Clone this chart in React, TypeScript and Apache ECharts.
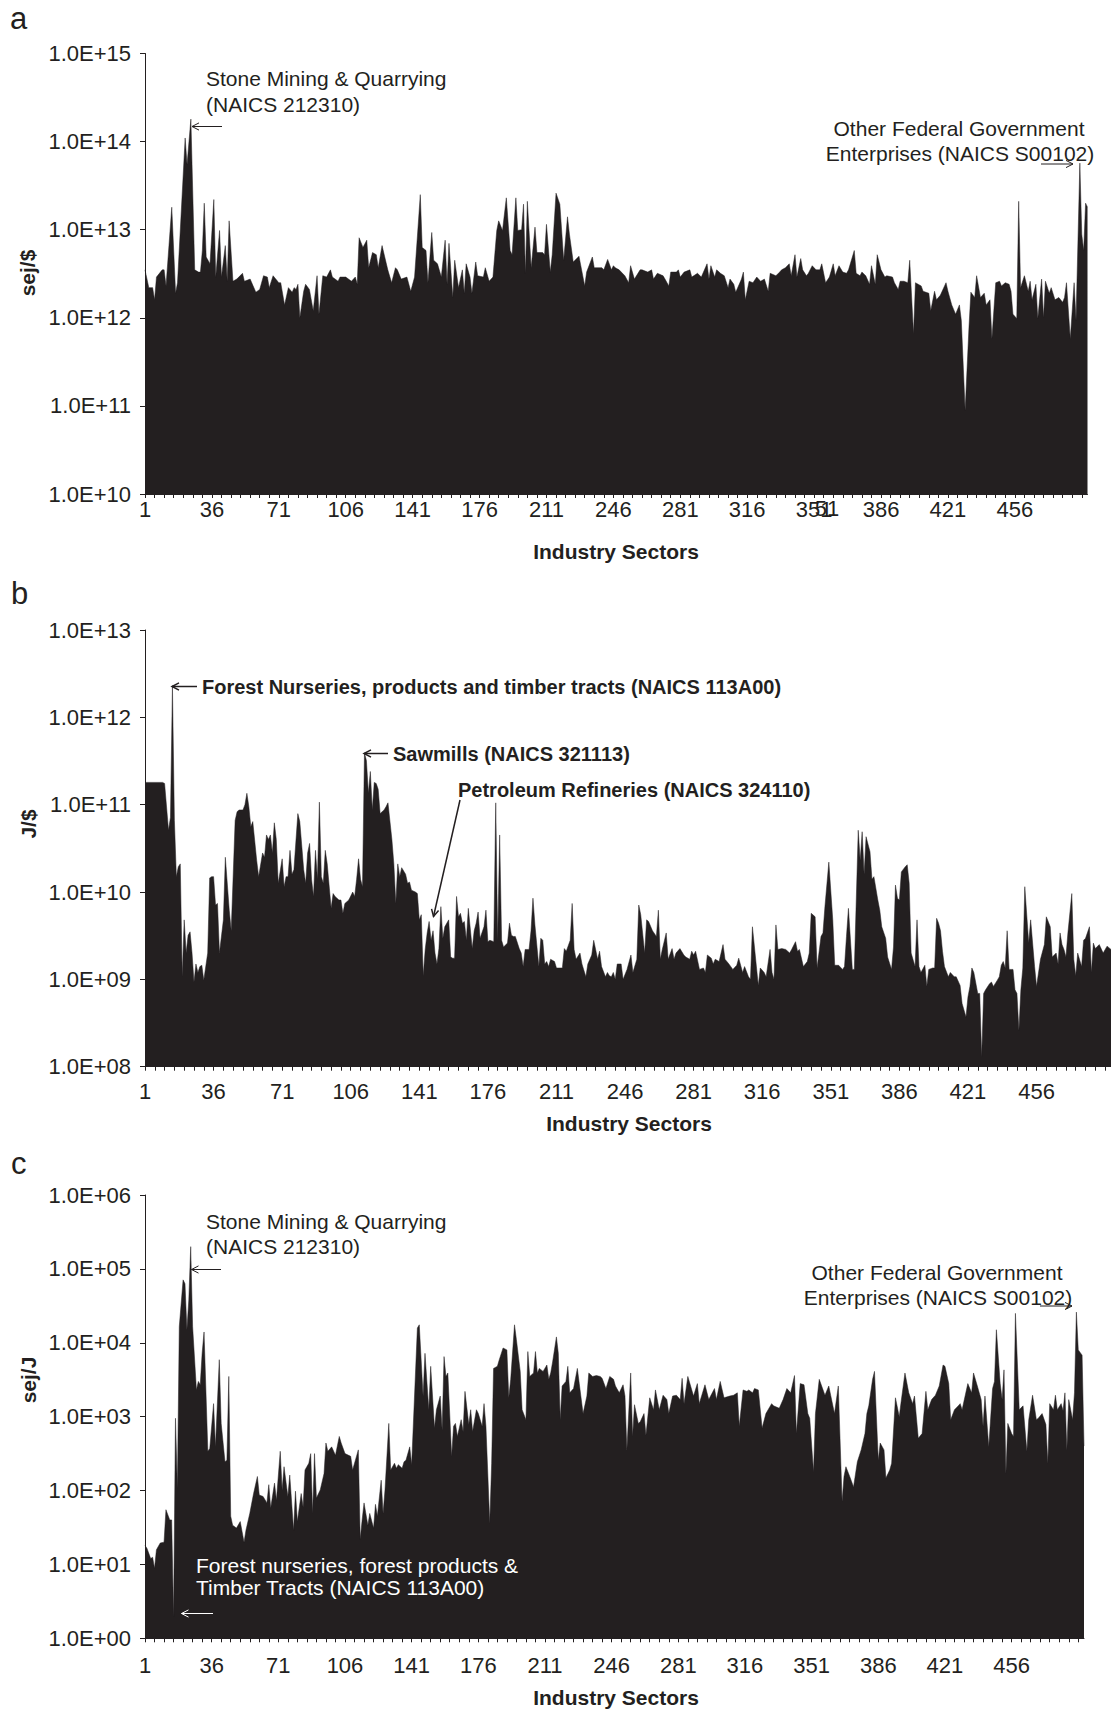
import React, { useEffect, useRef } from 'react';
import * as echarts from 'echarts';

const INK = '#231f20';
const FONT = '"Liberation Sans", Arial, Helvetica, sans-serif';
const TICK_FONT_SIZE = 22;
const SECTOR_COUNT = 494;
const sectorCategories: string[] = Array.from({ length: SECTOR_COUNT }, (_, i) => String(i + 1));
const xTickLabels = ['1', '36', '71', '106', '141', '176', '211', '246', '281', '316', '351', '386', '421', '456'];

// Panel a: emergy intensity, sej/$  [sector, value]
const panelA: [number, number][] = [
  [1,3.5e12],[3,2.2e12],[5,2.2e12],[6,1.6e12],[7,2.9e12],[10,3.5e12],[11,3.5e12],[12,2.3e12],[15,1.8e13],[17,1.9e12],[18,2.5e12],[22,1.1e14],[23,5.5e13],[25,1.8e14],[27,3.5e12],[29,3.3e12],[30,3.3e12],[31,5.8e12],[32,2.0e13],[33,4.9e12],[35,4.1e12],[37,2.2e13],[38,2.9e12],[40,9.8e12],[41,2.9e12],[43,6.6e12],[44,2.6e12],[45,1.26e13],[47,2.6e12],[49,2.75e12],[52,3.2e12],[53,2.6e12],[56,2.75e12],[59,1.95e12],[61,2.1e12],[63,3.0e12],[65,2.9e12],[66,2.2e12],[68,3.0e12],[71,2.5e12],[72,2.5e12],[74,1.4e12],[76,2.2e12],[78,1.95e12],[79,2.2e12],[80,2.1e12],[81,2.4e12],[82,1.0e12],[84,2.0e12],[85,2.4e12],[87,2.1e12],[89,1.2e12],[91,3.0e12],[92,1.1e12],[94,3.0e12],[96,2.9e12],[98,3.5e12],[99,2.9e12],[102,2.6e12],[103,2.9e12],[106,2.9e12],[109,2.6e12],[111,2.9e12],[112,2.4e12],[113,8.1e12],[115,6.3e12],[117,7.6e12],[118,3.7e12],[120,5.5e12],[122,5.2e12],[123,3.7e12],[125,6.6e12],[128,3.5e12],[130,2.5e12],[132,3.7e12],[133,3.5e12],[135,2.75e12],[138,2.9e12],[140,2.0e12],[142,2.9e12],[145,2.5e13],[146,6.3e12],[148,5.8e12],[149,2.5e12],[151,9.3e12],[152,4.5e12],[154,4.1e12],[156,2.9e12],[158,7.6e12],[159,2.4e12],[160,7.0e12],[162,1.7e12],[163,4.5e12],[165,2.2e12],[167,3.5e12],[168,1.9e12],[169,4.1e12],[171,2.9e12],[172,1.9e12],[174,4.3e12],[175,3.0e12],[178,2.9e12],[179,3.7e12],[181,2.6e12],[183,2.9e12],[185,9.8e12],[186,1.26e13],[188,9.8e12],[190,2.3e13],[192,5.8e12],[193,5.2e12],[195,2.3e13],[196,9.8e12],[198,1.0e13],[199,1.95e13],[200,3.2e12],[201,2.1e13],[203,3.7e12],[205,1.07e13],[206,5.5e12],[209,5.5e12],[210,5.2e12],[211,1.15e13],[213,3.3e12],[214,5.2e12],[216,2.6e13],[218,1.95e13],[220,4.5e12],[222,1.4e13],[223,8.9e12],[225,4.3e12],[228,5.0e12],[231,2.3e12],[232,3.3e12],[235,4.9e12],[236,3.7e12],[240,3.7e12],[241,3.5e12],[243,4.6e12],[245,3.5e12],[246,3.9e12],[247,3.7e12],[249,3.5e12],[252,3.0e12],[254,2.5e12],[255,3.9e12],[257,2.75e12],[260,3.5e12],[261,3.5e12],[264,3.3e12],[266,3.5e12],[267,2.75e12],[269,3.2e12],[272,3.0e12],[273,2.75e12],[275,2.3e12],[276,3.3e12],[279,3.3e12],[280,3.5e12],[281,2.9e12],[283,3.3e12],[286,3.5e12],[287,2.9e12],[290,3.2e12],[292,2.9e12],[295,4.1e12],[296,2.75e12],[297,3.9e12],[299,2.9e12],[300,3.5e12],[302,3.2e12],[304,3.0e12],[306,2.2e12],[307,2.75e12],[309,2.4e12],[310,1.95e12],[313,2.75e12],[314,3.3e12],[315,1.6e12],[317,2.6e12],[319,2.5e12],[321,2.9e12],[323,2.6e12],[325,2.75e12],[327,2.0e12],[328,3.2e12],[331,3.0e12],[333,3.3e12],[334,3.5e12],[336,3.7e12],[338,4.1e12],[339,3.0e12],[341,5.2e12],[342,2.9e12],[344,4.7e12],[345,3.5e12],[347,3.0e12],[348,3.2e12],[350,3.9e12],[352,3.5e12],[354,3.5e12],[355,4.1e12],[357,2.5e12],[359,2.9e12],[361,4.1e12],[362,3.0e12],[364,3.9e12],[366,3.3e12],[368,3.2e12],[369,3.5e12],[372,5.8e12],[373,3.2e12],[375,3.0e12],[376,3.3e12],[378,3.0e12],[380,2.4e12],[381,3.9e12],[383,2.4e12],[384,5.2e12],[386,3.5e12],[388,2.9e12],[389,3.0e12],[392,2.9e12],[393,2.5e12],[395,2.1e12],[396,2.6e12],[398,2.6e12],[400,2.5e12],[401,4.5e12],[403,6.6e11],[404,2.5e12],[407,2.3e12],[408,2.0e12],[411,1.9e12],[412,1.2e12],[414,2.0e12],[415,1.6e12],[417,1.8e12],[420,2.5e12],[421,2.0e12],[423,1.4e12],[425,1.1e12],[427,1.4e12],[428,9.3e11],[430,8.9e10],[432,7.8e11],[433,1.95e12],[435,1.7e12],[436,3.0e12],[438,1.7e12],[440,1.9e12],[441,1.4e12],[443,1.6e12],[444,5.8e11],[446,2.5e12],[448,2.6e12],[449,2.3e12],[451,2.5e12],[453,2.4e12],[454,2.0e12],[455,1.1e12],[457,9.8e11],[458,2.1e13],[459,2.2e12],[461,3.0e12],[463,2.0e12],[464,2.6e12],[465,1.6e12],[467,2.4e12],[468,9.8e11],[470,2.75e12],[471,1.0e12],[472,2.6e12],[474,1.9e12],[475,2.2e12],[477,1.6e12],[479,1.7e12],[481,1.5e12],[482,1.7e12],[483,2.5e12],[485,5.8e11],[487,2.5e12],[488,9.3e11],[490,5.7e13],[491,8.9e12],[492,5.8e12],[493,2.0e13],[494,1.8e13],
];

// Panel b: energy intensity, J/$  [sector, value]
const panelB: [number, number][] = [
  [1,1.8e11],[10,1.8e11],[11,1.75e11],[13,5.1e10],[14,7.2e10],[15,2.3e12],[16,6.6e10],[17,1.5e10],[18,1.95e10],[19,2.1e10],[20,1.07e9],[21,4.8e9],[22,2.0e9],[23,3.2e9],[24,3.5e9],[25,2.0e9],[26,9.3e8],[27,1.5e9],[28,1.2e9],[29,1.4e9],[30,1.45e9],[31,9.8e8],[33,2.0e9],[34,1.45e10],[35,1.5e10],[36,1.5e10],[37,7.1e9],[38,7.4e9],[39,2.0e9],[41,4.8e9],[42,2.5e10],[44,6.2e9],[45,3.6e9],[47,6.6e10],[48,8.3e10],[49,8.7e10],[51,8.7e10],[52,1.0e11],[53,1.35e11],[54,9.5e10],[55,5.6e10],[56,6.4e10],[58,2.3e10],[59,1.5e10],[61,2.8e10],[62,2.5e10],[63,4.5e10],[64,4.0e10],[65,4.5e10],[66,2.8e10],[67,6.2e10],[68,4.0e10],[69,1.26e10],[71,2.4e10],[72,1.15e10],[73,1.5e10],[74,1.5e10],[75,3.0e10],[76,1.6e10],[77,1.8e10],[79,7.9e10],[80,6.4e10],[82,1.8e10],[83,1.26e10],[84,2.8e10],[85,3.6e10],[86,1.4e10],[87,8.9e9],[88,3.0e10],[89,1.4e10],[90,1.07e11],[91,1.5e10],[92,1.26e10],[93,3.0e10],[94,2.1e10],[96,6.5e9],[97,9.6e9],[98,8.9e9],[100,8.1e9],[101,8.1e9],[102,5.7e9],[103,7.4e9],[105,8.1e9],[107,1.0e10],[108,8.9e9],[109,1.4e10],[110,2.4e10],[111,1.4e10],[112,1.15e10],[113,3.9e11],[114,3.2e11],[115,1.35e11],[116,2.4e11],[117,8.7e10],[118,1.8e11],[119,1.75e11],[120,1.5e11],[121,7.9e10],[123,8.7e10],[124,9.5e10],[125,1.05e11],[127,4.0e10],[128,2.1e10],[129,7.4e9],[130,2.1e10],[131,1.5e10],[132,1.9e10],[134,1.6e10],[135,1.26e10],[136,1.3e10],[137,1.05e10],[139,1.0e10],[140,9.6e9],[141,4.8e9],[142,5.5e9],[143,1.1e9],[144,2.2e9],[145,3.4e9],[146,4.6e9],[147,2.8e9],[148,3.6e9],[149,2.0e9],[150,1.5e9],[151,2.25e9],[152,6.8e9],[153,2.95e9],[154,4.0e9],[156,4.8e9],[157,1.8e9],[158,1.75e9],[159,1.75e9],[160,8.9e9],[161,5.2e9],[162,5.7e9],[163,4.4e9],[164,4.6e9],[165,2.8e9],[166,6.5e9],[168,2.25e9],[169,3.6e9],[170,4.4e9],[171,5.9e9],[172,2.95e9],[174,4.0e9],[175,6.2e9],[176,2.7e9],[177,2.8e9],[179,2.7e9],[180,1.05e11],[181,2.8e9],[182,4.5e10],[183,2.8e9],[184,2.35e9],[186,2.6e9],[187,4.4e9],[188,3.2e9],[189,3.1e9],[190,3.1e9],[192,2.25e9],[193,2.0e9],[194,1.4e9],[195,2.2e9],[197,2.2e9],[198,3.6e9],[199,8.5e9],[200,4.2e9],[202,1.4e9],[203,2.95e9],[204,2.8e9],[205,1.5e9],[206,1.6e9],[207,1.4e9],[208,1.7e9],[210,1.6e9],[211,1.35e9],[212,1.35e9],[214,1.35e9],[215,2.25e9],[216,2.1e9],[218,2.8e9],[219,7.4e9],[220,2.2e9],[221,1.7e9],[223,2.0e9],[224,1.5e9],[226,1.07e9],[227,1.5e9],[229,1.9e9],[230,2.8e9],[232,1.7e9],[233,2.1e9],[234,1.4e9],[236,1.07e9],[237,1.2e9],[238,1.1e9],[239,1.07e9],[240,1.2e9],[241,1.0e9],[242,1.5e9],[244,1.5e9],[245,1.0e9],[247,1.3e9],[249,1.9e9],[250,1.2e9],[252,1.7e9],[253,7.1e9],[254,5.5e9],[256,2.0e9],[257,4.8e9],[258,4.6e9],[260,3.6e9],[262,3.1e9],[263,6.2e9],[264,1.7e9],[265,2.2e9],[267,3.4e9],[268,1.7e9],[270,2.25e9],[271,1.7e9],[272,2.0e9],[274,2.25e9],[276,1.9e9],[277,1.8e9],[279,1.7e9],[280,2.1e9],[281,1.9e9],[282,2.1e9],[284,1.3e9],[286,1.35e9],[287,1.2e9],[288,1.9e9],[290,1.75e9],[291,1.5e9],[292,1.7e9],[294,1.6e9],[296,2.5e9],[297,1.7e9],[299,1.5e9],[301,1.3e9],[303,1.45e9],[304,1.75e9],[306,1.2e9],[307,1.4e9],[309,1.07e9],[310,1.0e9],[311,4.0e9],[314,8.5e8],[315,1.35e9],[317,1.2e9],[318,1.07e9],[320,2.2e9],[321,1.2e9],[322,1.0e9],[323,4.2e9],[324,2.2e9],[326,2.25e9],[328,2.2e9],[330,2.0e9],[331,2.2e9],[333,2.7e9],[334,2.1e9],[335,2.2e9],[337,1.4e9],[339,1.6e9],[340,2.0e9],[341,5.7e9],[343,5.2e9],[344,1.35e9],[346,3.1e9],[347,3.4e9],[348,6.8e9],[350,2.2e10],[352,4.8e9],[353,1.45e9],[355,1.45e9],[357,1.3e9],[358,1.4e9],[359,3.1e9],[360,6.5e9],[362,1.3e9],[363,1.3e9],[365,5.1e10],[366,2.3e10],[367,4.9e10],[368,1.6e10],[369,4.3e10],[371,2.9e10],[372,1.4e10],[373,1.5e10],[375,8.1e9],[376,6.2e9],[377,4.0e9],[379,2.95e9],[380,1.8e9],[382,1.3e9],[383,2.35e9],[384,1.2e10],[385,8.5e9],[386,8.1e9],[387,1.7e10],[389,1.95e10],[390,2.05e10],[391,1.26e10],[392,2.0e9],[394,1.4e9],[395,4.8e9],[396,1.4e9],[397,1.2e9],[399,1.45e9],[400,8.3e8],[401,1.3e9],[403,1.35e9],[404,1.35e9],[405,5.0e9],[406,4.4e9],[407,3.6e9],[408,2.1e9],[409,1.4e9],[411,1.07e9],[412,1.2e9],[414,1.07e9],[415,1.07e9],[417,8.5e8],[418,5.3e8],[420,3.7e8],[421,6.3e8],[422,8.3e8],[423,1.35e9],[424,1.2e9],[426,6.9e8],[427,6.9e8],[428,1.3e8],[429,6.9e8],[430,7.6e8],[432,8.9e8],[433,9.3e8],[434,8.3e8],[436,9.8e8],[437,1.07e9],[438,1.45e9],[439,1.6e9],[440,1.35e9],[441,3.6e9],[442,1.3e9],[444,1.3e9],[445,7.6e8],[446,6.9e8],[447,2.6e8],[448,7.6e8],[449,1.35e9],[450,1.15e10],[452,2.6e9],[453,4.8e9],[455,1.4e9],[456,8.3e8],[458,1.7e9],[460,2.5e9],[461,5.2e9],[463,4.0e9],[464,1.8e9],[466,2.0e9],[467,1.5e9],[468,3.4e9],[469,2.5e9],[470,2.2e9],[471,1.8e9],[472,3.4e9],[474,9.6e9],[475,1.7e9],[476,1.1e9],[477,2.0e9],[479,1.4e9],[480,2.8e9],[481,2.95e9],[483,4.0e9],[484,1.2e9],[485,2.6e9],[486,2.25e9],[488,2.5e9],[490,2.0e9],[492,2.4e9],[494,2.2e9],
];

// Panel c: transformity, sej/J  [sector, value]
const panelC: [number, number][] = [
  [1,18],[2,16.6],[4,12],[5,12.5],[6,8.9],[7,15.8],[9,19.5],[11,20],[12,55],[14,40],[15,40],[16,1.95],[17,950],[18,107],[19,1.66e4],[21,7.1e4],[22,6.3e4],[23,1.5e4],[24,3.8e4],[25,2.0e5],[26,1.66e4],[28,2.3e3],[29,3.0e3],[30,2.7e3],[31,7.2e3],[32,1.4e4],[34,340],[35,370],[37,1.5e3],[38,390],[40,5.9e3],[41,810],[43,245],[44,257],[45,3.5e3],[46,45],[47,34],[49,31],[51,38],[53,20],[54,29],[56,49],[58,91],[60,155],[61,87],[63,83],[65,68],[66,120],[67,58],[69,126],[70,74],[72,340],[73,102],[74,210],[76,83],[77,162],[79,29],[80,98],[81,38],[83,91],[84,60],[85,190],[87,234],[88,316],[89,49],[90,316],[91,79],[93,102],[95,170],[96,440],[97,340],[99,390],[101,300],[103,540],[104,440],[106,316],[109,290],[110,190],[113,355],[114,22],[115,40],[116,68],[118,34],[119,49],[121,31],[122,65],[123,45],[125,138],[126,49],[127,102],[129,810],[130,190],[132,234],[133,200],[134,224],[136,200],[137,245],[138,257],[140,390],[141,224],[144,1.58e4],[145,1.75e4],[147,1.9e3],[148,7.2e3],[150,1.24e3],[151,4.8e3],[153,700],[154,1.24e3],[156,1.9e3],[157,660],[158,6.5e3],[159,3.5e3],[160,3.9e3],[162,290],[163,740],[164,810],[165,540],[167,910],[168,630],[169,2.2e3],[171,780],[172,1.24e3],[173,630],[175,1.24e3],[176,1.1e3],[178,740],[179,1.5e3],[180,740],[182,36],[183,234],[184,4.5e3],[186,4.8e3],[187,5.9e3],[189,8.5e3],[191,8.0e3],[192,1.8e3],[193,3.2e3],[195,1.75e4],[196,1.1e4],[198,4.1e3],[199,1.24e3],[201,910],[202,7.6e3],[203,3.5e3],[205,3.9e3],[206,7.6e3],[207,3.9e3],[208,4.5e3],[210,4.1e3],[212,5.0e3],[213,3.2e3],[214,3.9e3],[215,5.5e3],[217,1.2e4],[218,7.2e3],[219,910],[220,2.6e3],[222,3.0e3],[223,4.8e3],[224,2.1e3],[226,2.4e3],[228,4.5e3],[229,2.8e3],[231,1.1e3],[233,1.9e3],[234,3.9e3],[236,3.5e3],[238,3.6e3],[240,3.5e3],[241,3.3e3],[243,2.4e3],[245,3.5e3],[247,3.2e3],[248,2.6e3],[250,2.1e3],[252,2.7e3],[253,1.9e3],[254,355],[256,3.9e3],[257,540],[258,1.45e3],[260,810],[261,850],[263,1.1e3],[264,560],[266,1.8e3],[268,1.24e3],[269,2.3e3],[271,1.24e3],[273,1.95e3],[275,1.7e3],[276,1.1e3],[278,1.9e3],[280,1.95e3],[282,1.7e3],[283,3.3e3],[284,1.5e3],[286,3.5e3],[289,1.9e3],[291,2.8e3],[292,1.5e3],[295,2.7e3],[297,1.7e3],[300,2.4e3],[301,1.7e3],[303,3.0e3],[305,1.8e3],[308,1.9e3],[310,1.95e3],[312,2.1e3],[313,740],[315,2.3e3],[317,2.2e3],[318,2.3e3],[320,2.1e3],[321,2.4e3],[323,2.3e3],[325,700],[327,1.1e3],[330,1.5e3],[331,1.4e3],[334,1.3e3],[336,1.7e3],[338,2.4e3],[340,2.1e3],[342,3.6e3],[343,590],[345,2.8e3],[347,2.7e3],[349,1.1e3],[350,950],[352,180],[353,1.1e3],[355,3.2e3],[358,1.95e3],[360,2.6e3],[361,1.95e3],[363,1.1e3],[365,2.6e3],[367,71],[368,155],[369,210],[371,155],[373,112],[375,245],[377,355],[379,590],[380,1.1e3],[381,1.4e3],[383,3.2e3],[384,4.1e3],[386,257],[387,440],[389,355],[390,148],[392,190],[393,234],[395,1.8e3],[397,1.0e3],[398,1.6e3],[400,3.9e3],[402,2.1e3],[404,1.5e3],[405,1.9e3],[407,510],[409,590],[411,2.2e3],[412,1.24e3],[414,1.7e3],[416,1.95e3],[418,2.6e3],[420,5.0e3],[421,4.8e3],[423,2.8e3],[424,910],[426,1.24e3],[428,1.4e3],[429,1.5e3],[430,1.24e3],[433,2.8e3],[435,2.1e3],[436,3.9e3],[438,2.6e3],[440,1.7e3],[441,740],[442,1.9e3],[444,390],[446,2.4e3],[447,3.0e3],[448,1.5e4],[450,2.8e3],[451,1.7e3],[452,4.3e3],[453,170],[454,810],[456,590],[457,540],[458,2.5e4],[460,1.24e3],[462,1.4e3],[464,340],[465,910],[467,1.95e3],[469,910],[470,950],[472,1.1e3],[474,780],[475,234],[476,1.5e3],[478,1.24e3],[479,1.95e3],[480,1.24e3],[482,1.5e3],[483,1.2e3],[484,2.1e3],[485,355],[486,1.7e3],[488,910],[489,2.1e3],[490,2.6e4],[491,8.0e3],[493,6.8e3],[494,400],
];

type Txt = { text: string; x: number; y: number; size: number; bold?: boolean; align?: string; fill?: string; rotate?: boolean };

function textEl(t: Txt) {
  const align = t.align || 'left';
  return {
    type: 'text',
    x: t.x,
    y: t.y,
    z: 100,
    rotation: t.rotate ? Math.PI / 2 : 0,
    style: {
      text: t.text,
      fontSize: t.size,
      fontWeight: t.bold ? 'bold' : 'normal',
      fontFamily: FONT,
      fill: t.fill || INK,
      align,
      textAlign: align,
      verticalAlign: 'middle',
      textVerticalAlign: 'middle',
    },
  };
}

function arrowEl(x1: number, y1: number, x2: number, y2: number, color: string, width: number) {
  const dx = x2 - x1;
  const dy = y2 - y1;
  const len = Math.hypot(dx, dy);
  const ux = dx / len;
  const uy = dy / len;
  const hl = 7;
  const hw = 3.6;
  const bx = x2 - ux * hl;
  const by = y2 - uy * hl;
  return [
    { type: 'line', z: 100, shape: { x1, y1, x2, y2 }, style: { stroke: color, lineWidth: width } },
    {
      type: 'polyline',
      z: 100,
      shape: { points: [[bx - uy * hw, by + ux * hw], [x2, y2], [bx + uy * hw, by - ux * hw]] },
      style: { stroke: color, lineWidth: width, fill: null },
    },
  ];
}

function catAxis(gridIndex: number, margin: number) {
  return {
    type: 'category',
    gridIndex,
    data: sectorCategories,
    boundaryGap: false,
    position: 'bottom',
    axisLine: { show: true, lineStyle: { color: INK, width: 1 } },
    axisTick: { show: true, length: 4, interval: (i: number) => i % 5 === 0, lineStyle: { color: INK, width: 1 } },
    axisLabel: {
      show: true,
      interval: (_i: number, v: string) => xTickLabels.includes(v),
      margin,
      fontFamily: FONT,
      fontSize: TICK_FONT_SIZE,
      color: INK,
    },
    splitLine: { show: false },
  };
}

function valAxis(gridIndex: number) {
  return { type: 'value', gridIndex, min: 1, max: SECTOR_COUNT, show: false };
}

function logAxis(gridIndex: number, min: number, max: number, splits: number) {
  return {
    type: 'log',
    logBase: 10,
    gridIndex,
    min,
    max,
    splitNumber: splits,
    axisLine: { show: true, lineStyle: { color: INK, width: 1 } },
    axisTick: { show: true, length: 5, lineStyle: { color: INK, width: 1 } },
    axisLabel: {
      formatter: (v: number) => {
        const e = Math.round(Math.log10(v));
        return '1.0E+' + String(e).padStart(2, '0');
      },
      margin: 14,
      fontFamily: FONT,
      fontSize: TICK_FONT_SIZE,
      color: INK,
    },
    splitLine: { show: false },
    minorTick: { show: false },
  };
}

function areaSeries(xAxisIndex: number, yAxisIndex: number, data: [number, number][]) {
  return {
    type: 'line',
    xAxisIndex,
    yAxisIndex,
    data,
    symbol: 'none',
    silent: true,
    lineStyle: { width: 0.5, color: INK },
    areaStyle: { color: INK, opacity: 1, origin: 'start' },
  };
}

export default function App() {
  const ref = useRef<HTMLDivElement>(null);
  useEffect(() => {
    if (!ref.current) return;
    const chart = echarts.init(ref.current, null, { renderer: 'svg' });

    const texts: Txt[] = [
      { text: 'a', x: 10, y: 18, size: 31 },
      { text: 'b', x: 11, y: 593, size: 31 },
      { text: 'c', x: 11, y: 1163, size: 31 },
      { text: 'sej/$', x: 27, y: 273, size: 21, bold: true, align: 'center', rotate: true },
      { text: 'J/$', x: 28, y: 824, size: 21, bold: true, align: 'center', rotate: true },
      { text: 'sej/J', x: 28, y: 1380, size: 21, bold: true, align: 'center', rotate: true },
      { text: 'Industry Sectors', x: 616, y: 551, size: 21, bold: true, align: 'center' },
      { text: 'Industry Sectors', x: 629, y: 1123, size: 21, bold: true, align: 'center' },
      { text: 'Industry Sectors', x: 616, y: 1697, size: 21, bold: true, align: 'center' },
      { text: 'Stone Mining & Quarrying', x: 206, y: 78, size: 21 },
      { text: '(NAICS 212310)', x: 206, y: 104, size: 21 },
      { text: 'Other Federal Government', x: 959, y: 128, size: 21, align: 'center' },
      { text: 'Enterprises (NAICS S00102)', x: 960, y: 153, size: 21, align: 'center' },
      { text: 'Forest Nurseries, products and timber tracts (NAICS 113A00)', x: 202, y: 687, size: 20, bold: true },
      { text: 'Sawmills (NAICS 321113)', x: 393, y: 754, size: 20, bold: true },
      { text: 'Petroleum Refineries (NAICS 324110)', x: 458, y: 790, size: 20, bold: true },
      { text: 'Stone Mining & Quarrying', x: 206, y: 1221, size: 21 },
      { text: '(NAICS 212310)', x: 206, y: 1246, size: 21 },
      { text: 'Forest nurseries, forest products &', x: 196, y: 1565, size: 21, fill: '#ffffff' },
      { text: 'Timber Tracts (NAICS 113A00)', x: 196, y: 1587, size: 21, fill: '#ffffff' },
      { text: 'Other Federal Government', x: 937, y: 1272, size: 21, align: 'center' },
      { text: 'Enterprises (NAICS S00102)', x: 938, y: 1297, size: 21, align: 'center' },
      { text: '51', x: 827, y: 508, size: TICK_FONT_SIZE, align: 'center' },
    ];

    const graphics: any[] = texts.map(textEl);
    graphics.push(
      ...arrowEl(222, 126.5, 192, 126.5, INK, 1),
      ...arrowEl(1041, 164, 1073, 164, INK, 1),
      ...arrowEl(197, 686.5, 172, 686.5, INK, 1.5),
      ...arrowEl(388, 753.5, 364, 753.5, INK, 1.5),
      ...arrowEl(460, 800, 433.5, 916.5, INK, 1.5),
      ...arrowEl(221, 1269.5, 191.5, 1269.5, INK, 1),
      ...arrowEl(213, 1613.5, 181.5, 1613.5, '#ffffff', 1),
      ...arrowEl(1040, 1306, 1072, 1306, INK, 1),
    );

    chart.setOption({
      animation: false,
      textStyle: { fontFamily: FONT },
      grid: [
        { left: 145, top: 53.5, width: 942.5, height: 440.5 },
        { left: 145, top: 630, width: 973, height: 436.7 },
        { left: 145, top: 1195, width: 939, height: 443.3 },
      ],
      xAxis: [catAxis(0, 4), valAxis(0), catAxis(1, 14), valAxis(1), catAxis(2, 16), valAxis(2)],
      yAxis: [logAxis(0, 1e10, 1e15, 5), logAxis(1, 1e8, 1e13, 5), logAxis(2, 1, 1e6, 6)],
      series: [areaSeries(1, 0, panelA), areaSeries(3, 1, panelB), areaSeries(5, 2, panelC)],
      graphic: graphics,
    });
    return () => chart.dispose();
  }, []);
  return (
    <div
      ref={ref}
      style={{ position: 'absolute', left: 0, top: 0, width: 1111, height: 1709, background: '#ffffff' }}
    />
  );
}
